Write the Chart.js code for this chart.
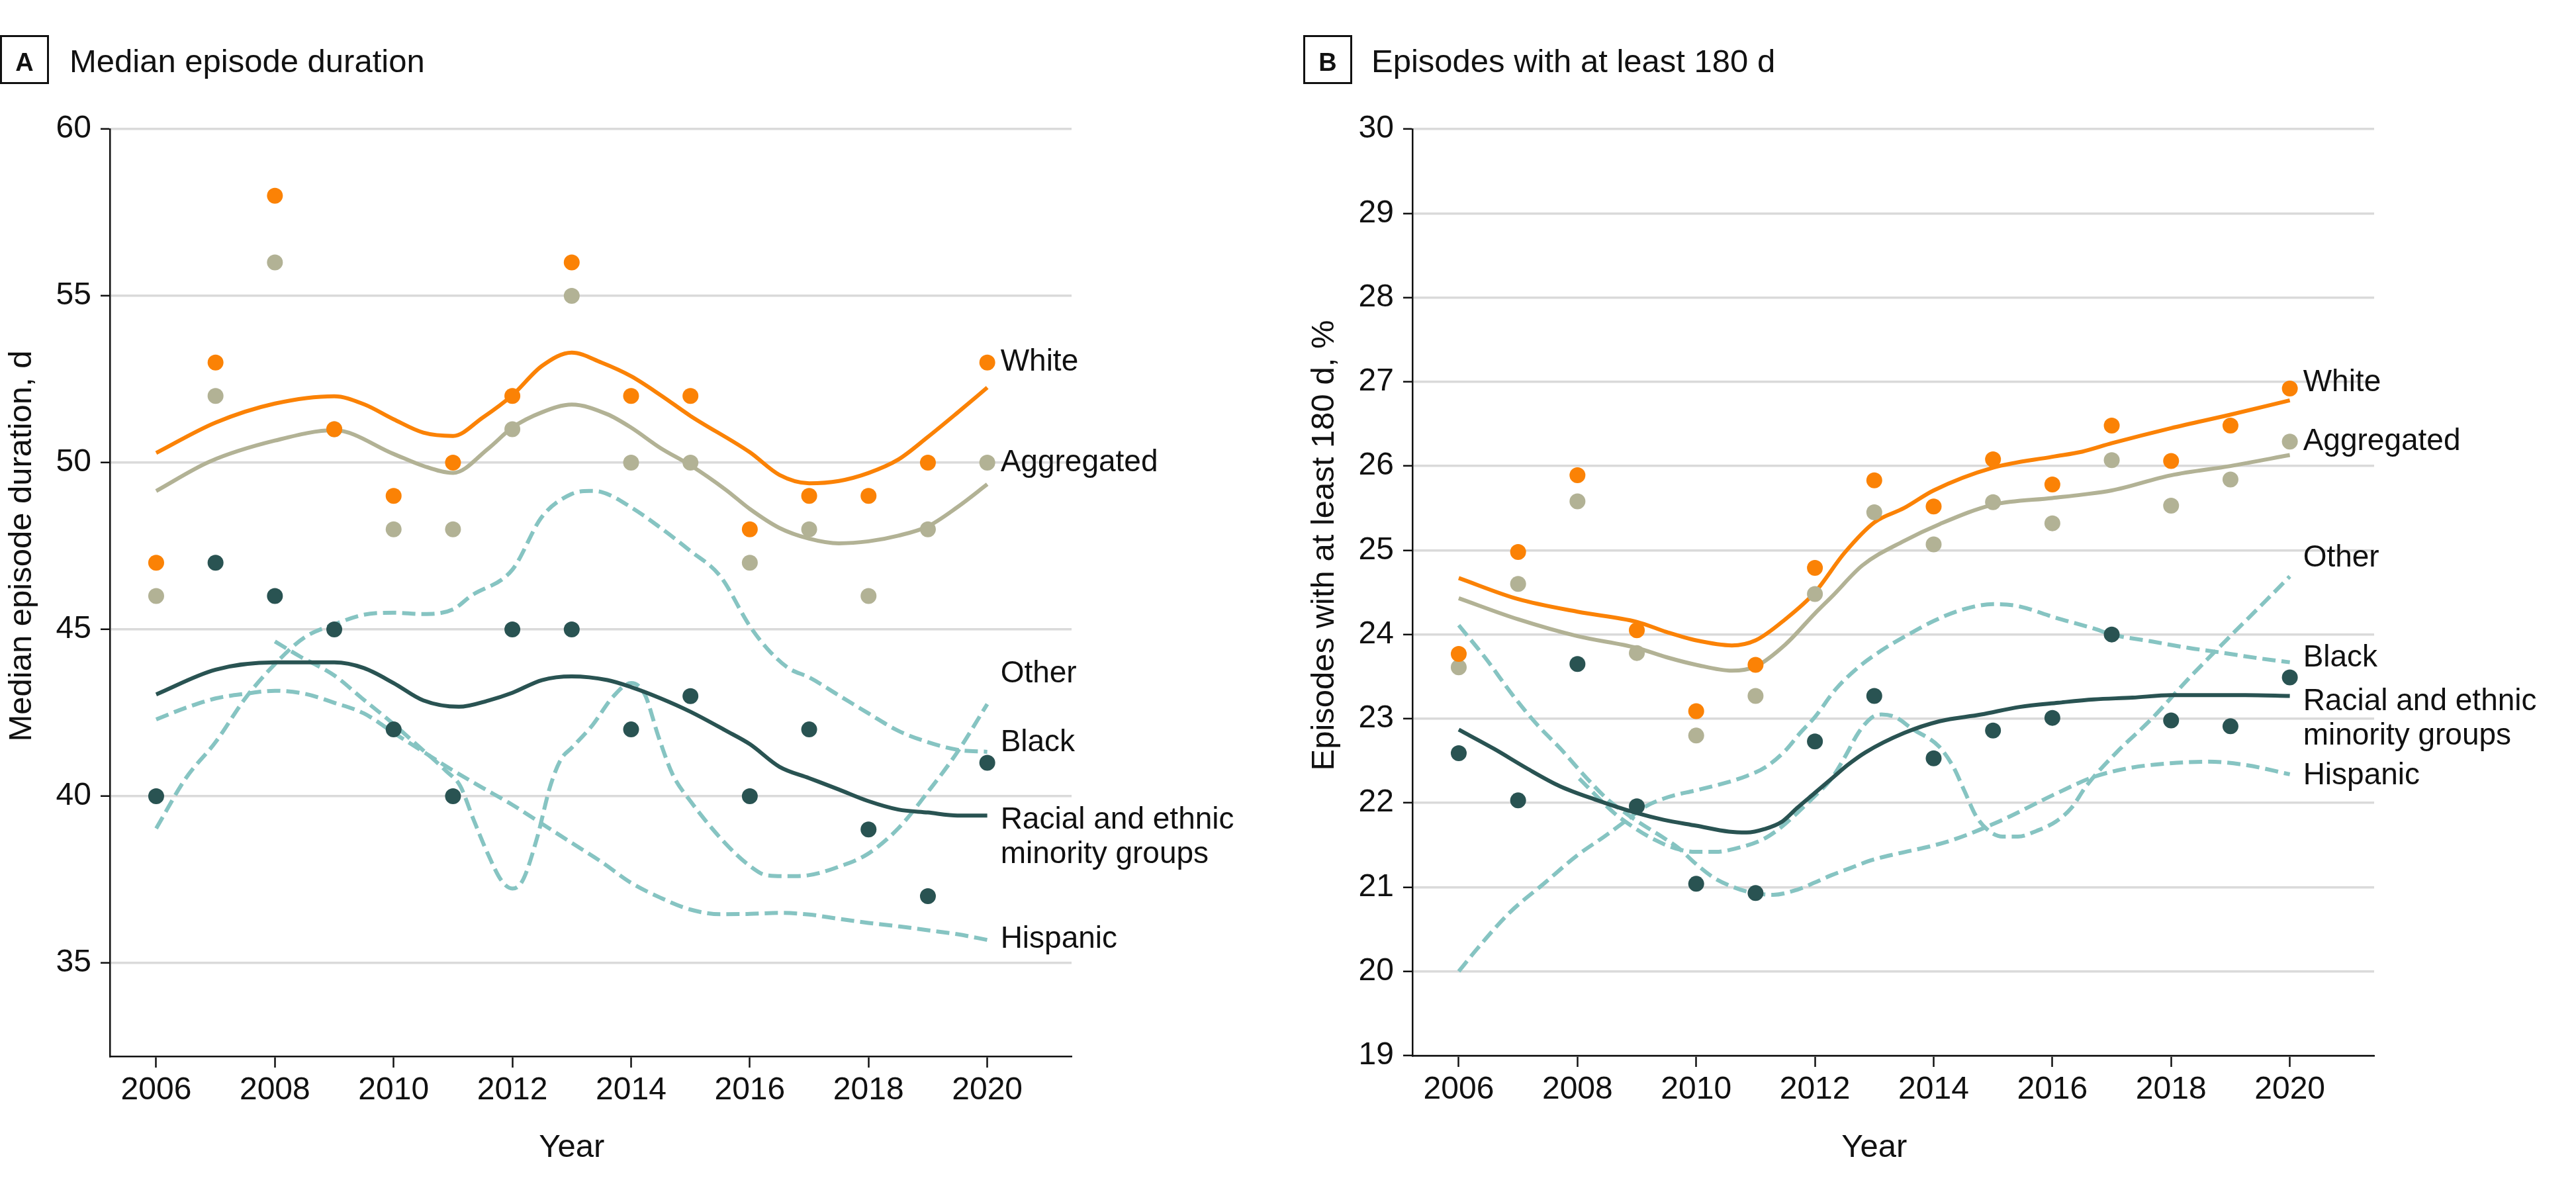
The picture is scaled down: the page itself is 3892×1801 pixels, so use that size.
<!DOCTYPE html>
<html>
<head>
<meta charset="utf-8">
<script src="https://cdn.jsdelivr.net/npm/chart.js@4.4.1/dist/chart.umd.min.js"></script>
<style>
html, body { margin: 0; padding: 0; background: #ffffff; }
#wrap { position: relative; width: 3892px; height: 1801px; overflow: hidden; background: #ffffff; }
canvas { position: absolute; top: 0; }
#chartA { left: 0; }
#chartB { left: 1900px; }
</style>
</head>
<body>
<div id="wrap">
  <canvas id="chartA" width="1900" height="1801"></canvas>
  <canvas id="chartB" width="1992" height="1801"></canvas>
</div>
<script>
// ---------------- DATA ----------------
const years = [2006, 2007, 2008, 2009, 2010, 2011, 2012, 2013, 2014, 2015, 2016, 2017, 2018, 2019, 2020];
const xTickLabels = [2006, 2008, 2010, 2012, 2014, 2016, 2018, 2020];

// Panel A: Median episode duration, d (yearly observed points)
const medianYTicks = [35, 40, 45, 50, 55, 60];
const medianWhite      = [47, 53, 58, 51, 49, 50, 52, 56, 52, 52, 48, 49, 49, 50, 53];
const medianAggregated = [46, 52, 56, 51, 48, 48, 51, 55, 50, 50, 47, 48, 46, 48, 50];
const medianMinority   = [40, 47, 46, 45, 42, 40, 45, 45, 42, 43, 40, 42, 39, 37, 41];

// Panel A: smoothed trend curves [year, value]
const medianWhiteFit = [[2006,50.29],[2007,51.2],[2008,51.77],[2009,51.99],[2009.5,51.75],[2010,51.3],[2010.5,50.9],[2011,50.8],[2011.5,51.35],[2012,52.02],[2012.5,52.9],[2013,53.3],[2013.5,53.0],[2014,52.59],[2014.5,52.02],[2015,51.4],[2016,50.31],[2016.5,49.63],[2017,49.38],[2017.5,49.45],[2018,49.69],[2018.5,50.09],[2019,50.77],[2019.5,51.5],[2020,52.25]];
const medianAggregatedFit = [[2006,49.15],[2006.9,50.03],[2008,50.66],[2009,50.97],[2010,50.26],[2010.5,49.9],[2011,49.69],[2011.6,50.43],[2012,51.05],[2012.5,51.51],[2013,51.74],[2013.6,51.45],[2014,51.05],[2014.5,50.43],[2015,49.92],[2015.6,49.18],[2016,48.61],[2016.5,48.04],[2017,47.72],[2017.5,47.58],[2018,47.64],[2018.5,47.81],[2019,48.09],[2019.5,48.67],[2020,49.35]];
const medianMinorityFit = [[2006,43.05],[2007,43.79],[2008,44.01],[2009,44.01],[2009.5,43.84],[2010,43.39],[2010.5,42.87],[2011.1,42.68],[2011.6,42.87],[2012,43.1],[2012.5,43.48],[2013,43.59],[2013.6,43.48],[2014,43.27],[2014.5,42.93],[2015,42.53],[2015.6,41.96],[2016,41.56],[2016.5,40.88],[2017,40.54],[2017.5,40.2],[2018,39.85],[2018.5,39.6],[2019,39.51],[2019.5,39.42],[2020,39.42]];
const medianBlackFit = [[2006,39.03],[2006.5,40.54],[2007,41.62],[2007.5,42.93],[2008,43.96],[2008.5,44.76],[2009,45.15],[2009.5,45.44],[2010,45.5],[2010.5,45.46],[2011,45.6],[2011.3,46.0],[2012,46.79],[2012.5,48.38],[2013,49.06],[2013.3,49.15],[2013.5,49.12],[2014,48.66],[2014.5,48.04],[2015,47.35],[2015.5,46.6],[2016,45.1],[2016.3,44.41],[2016.65,43.84],[2017,43.56],[2017.5,43.02],[2018,42.48],[2018.5,41.96],[2019,41.62],[2019.5,41.39],[2020,41.33]];
const medianHispanicFit = [[2006,42.3],[2006.5,42.65],[2007,42.93],[2007.5,43.07],[2008,43.16],[2008.5,43.07],[2009,42.8],[2009.5,42.48],[2010,41.9],[2010.5,41.33],[2011,40.77],[2011.5,40.25],[2012,39.74],[2012.5,39.17],[2013,38.6],[2013.5,38.03],[2014,37.4],[2014.5,36.95],[2015,36.6],[2015.5,36.46],[2016,36.47],[2016.5,36.5],[2017,36.45],[2017.5,36.32],[2018,36.2],[2018.5,36.1],[2019,35.98],[2019.5,35.86],[2020,35.69]];
const medianOtherFit = [[2008,44.64],[2008.42,44.19],[2009,43.62],[2009.47,42.93],[2009.94,42.25],[2010.41,41.51],[2010.88,40.76],[2011.12,40.31],[2011.35,39.28],[2011.59,38.26],[2011.82,37.46],[2012,37.23],[2012.17,37.46],[2012.41,38.71],[2012.64,40.31],[2012.82,41.11],[2013,41.45],[2013.35,42.13],[2013.7,42.99],[2014,43.39],[2014.23,43.05],[2014.46,41.79],[2014.7,40.65],[2015,39.85],[2015.58,38.6],[2016,37.91],[2016.28,37.63],[2016.63,37.6],[2016.99,37.63],[2017.46,37.86],[2017.98,38.26],[2018.51,39.05],[2018.98,40.08],[2019.5,41.33],[2020,42.76]];

// Panel B: Episodes with at least 180 d, % (yearly observed points)
const pctYTicks = [19, 20, 21, 22, 23, 24, 25, 26, 27, 28, 29, 30];
const pctWhite      = [23.77, 24.98, 25.89, 24.05, 23.09, 23.64, 24.79, 25.83, 25.52, 26.08, 25.78, 26.48, 26.06, 26.48, 26.92];
const pctAggregated = [23.61, 24.60, 25.58, 23.78, 22.80, 23.27, 24.48, 25.45, 25.07, 25.57, 25.32, 26.07, 25.53, 25.84, 26.29];
const pctMinority   = [22.59, 22.03, 23.65, 21.96, 21.04, 20.93, 22.73, 23.27, 22.53, 22.86, 23.01, 24.00, 22.98, 22.91, 23.49];

// Panel B: smoothed trend curves [year, value]
const pctWhiteFit = [[2006,24.67],[2007,24.42],[2008,24.27],[2009,24.15],[2009.5,24.03],[2010,23.93],[2010.6,23.87],[2011,23.93],[2011.5,24.18],[2012,24.5],[2012.5,24.97],[2013,25.33],[2013.5,25.5],[2014,25.71],[2015,25.98],[2016,26.11],[2016.5,26.17],[2017,26.27],[2018,26.45],[2019,26.61],[2020,26.78]];
const pctAggregatedFit = [[2006,24.43],[2007,24.18],[2008,23.98],[2009,23.84],[2009.5,23.73],[2010,23.64],[2010.6,23.57],[2011,23.62],[2011.5,23.88],[2012,24.25],[2012.3,24.46],[2012.8,24.82],[2013.5,25.11],[2014.1,25.31],[2015,25.54],[2016,25.62],[2016.5,25.66],[2017,25.71],[2018,25.89],[2019,26.0],[2020,26.13]];
const pctMinorityFit = [[2006,22.87],[2006.6,22.64],[2007.15,22.41],[2007.7,22.2],[2008.3,22.04],[2009,21.88],[2009.45,21.8],[2010,21.73],[2010.55,21.66],[2010.85,21.65],[2011.15,21.69],[2011.45,21.78],[2011.7,21.94],[2012,22.12],[2012.3,22.3],[2012.55,22.45],[2012.85,22.6],[2013.5,22.83],[2014.1,22.97],[2014.8,23.05],[2015.45,23.14],[2016.1,23.19],[2016.7,23.23],[2017.35,23.25],[2018,23.28],[2018.6,23.28],[2019.25,23.28],[2020,23.27]];
const pctBlackFit = [[2006,20.0],[2006.3,20.26],[2006.86,20.7],[2007.43,21.04],[2008,21.38],[2008.45,21.6],[2008.8,21.78],[2009.15,21.96],[2009.53,22.07],[2010,22.15],[2010.45,22.23],[2010.85,22.32],[2011.18,22.43],[2011.5,22.62],[2011.75,22.83],[2012,23.02],[2012.35,23.35],[2012.73,23.61],[2013.12,23.81],[2013.5,23.97],[2014,24.16],[2014.46,24.29],[2015,24.36],[2015.4,24.34],[2016.05,24.2],[2016.7,24.07],[2017,24.0],[2017.65,23.92],[2018.3,23.84],[2018.8,23.79],[2019.45,23.72],[2020,23.67]];
const pctHispanicFit = [[2006,24.11],[2006.45,23.72],[2006.92,23.27],[2007.32,22.93],[2007.72,22.64],[2008.11,22.33],[2008.51,22.04],[2008.85,21.86],[2009.08,21.75],[2009.42,21.6],[2009.71,21.46],[2009.99,21.28],[2010.28,21.12],[2010.56,21.02],[2010.9,20.94],[2011.3,20.91],[2011.7,20.97],[2011.98,21.05],[2012.27,21.14],[2012.61,21.23],[2012.95,21.32],[2013.4,21.4],[2013.97,21.49],[2014.36,21.57],[2015.1,21.78],[2016.06,22.11],[2016.7,22.31],[2017.34,22.42],[2017.98,22.47],[2018.62,22.49],[2019.26,22.45],[2020,22.34]];
const pctOtherFit = [[2008.03,22.29],[2008.62,21.88],[2008.97,21.7],[2009.31,21.56],[2009.65,21.46],[2009.99,21.42],[2010.33,21.42],[2010.67,21.46],[2011.13,21.57],[2011.41,21.7],[2011.7,21.88],[2011.98,22.07],[2012.27,22.28],[2012.5,22.54],[2012.73,22.83],[2012.95,23.01],[2013.12,23.05],[2013.35,23.02],[2013.64,22.88],[2014.09,22.67],[2014.33,22.43],[2014.52,22.14],[2014.71,21.85],[2014.91,21.68],[2015.16,21.6],[2015.42,21.6],[2015.74,21.67],[2016.06,21.78],[2016.32,21.94],[2016.57,22.2],[2017.08,22.6],[2017.66,22.99],[2018.3,23.48],[2018.94,23.94],[2019.58,24.39],[2020,24.69]];

// ---------------- STYLE ----------------
const FONT = '"Liberation Sans", Arial, Helvetica, sans-serif';
const TEXT = '#111111';
const ORANGE = '#fb8205';
const OLIVE = '#b2b295';
const DARK = '#295352';
const TEAL = '#86c4c2';
const GRID = '#dadada';

Chart.defaults.font.family = FONT;
Chart.defaults.color = TEXT;

function pairs(arr) { return arr.map(([x, y]) => ({ x, y })); }
function yearly(vals) { return years.map((x, i) => ({ x, y: vals[i] })); }

function annotations(p) {
  return {
    id: 'annot',
    afterDraw(chart) {
      const ctx = chart.ctx;
      const xs = chart.scales.x, ys = chart.scales.y;
      ctx.save();
      ctx.fillStyle = TEXT;
      ctx.strokeStyle = TEXT;
      // panel letter box
      ctx.lineWidth = 3;
      ctx.strokeRect(p.boxX + 1.5, 54.5, 71, 71);
      ctx.font = 'bold 38px ' + FONT;
      ctx.textAlign = 'center';
      ctx.textBaseline = 'alphabetic';
      ctx.fillText(p.letter, p.boxX + 37, 107);
      // panel title
      ctx.font = '49px ' + FONT;
      ctx.textAlign = 'left';
      ctx.fillText(p.title, p.titleX, 109);
      // x axis title
      ctx.textAlign = 'center';
      ctx.font = '49px ' + FONT;
      const xc = (xs.getPixelForValue(xTickLabels[0]) + xs.getPixelForValue(xTickLabels[xTickLabels.length - 1])) / 2;
      ctx.fillText('Year', xc, 1748);
      // y axis title
      ctx.save();
      ctx.translate(p.yTitleX, p.yTitleY);
      ctx.rotate(-Math.PI / 2);
      ctx.fillText(p.yTitle, 0, 0);
      ctx.restore();
      // series labels at the right end
      ctx.font = '46px ' + FONT;
      ctx.textAlign = 'left';
      ctx.textBaseline = 'middle';
      const lx = xs.getPixelForValue(years[years.length - 1]) + 20;
      p.labels.forEach(l => {
        const y = ys.getPixelForValue(l.at);
        l.lines.forEach((t, i) => ctx.fillText(t, lx, y + i * 52));
      });
      ctx.restore();
    }
  };
}

function makeChart(id, o) {
  const datasets = [];
  o.dashed.forEach(d => datasets.push({
    type: 'line', data: pairs(d), borderColor: TEAL, borderWidth: 6, borderDash: [20, 9],
    borderCapStyle: 'butt', pointRadius: 0, fill: false, cubicInterpolationMode: 'monotone', order: 3
  }));
  o.solid.forEach(d => datasets.push({
    type: 'line', data: pairs(d.pts), borderColor: d.color, borderWidth: 6,
    pointRadius: 0, fill: false, cubicInterpolationMode: 'monotone', order: 2
  }));
  o.dots.forEach((d, k) => datasets.push({
    type: 'line', data: yearly(d.vals), showLine: false, pointRadius: 12, pointHoverRadius: 12,
    pointBackgroundColor: d.color, pointBorderWidth: 0, borderColor: d.color, borderWidth: 0, order: 1 - k * 0.1
  }));

  const tickFont = { family: FONT, size: 48 };
  return new Chart(document.getElementById(id), {
    type: 'line',
    data: { datasets },
    options: {
      responsive: false,
      animation: false,
      devicePixelRatio: 1,
      events: [],
      layout: { padding: { left: 0, top: 195, right: o.padRight, bottom: 0 } },
      plugins: { legend: { display: false }, tooltip: { enabled: false } },
      scales: {
        x: {
          type: 'linear', min: 2005.22, max: 2021.42,
          afterFit: s => { s.height = o.xHeight; },
          afterBuildTicks: s => { s.ticks = xTickLabels.map(v => ({ value: v })); },
          ticks: { font: tickFont, color: TEXT, padding: 6, autoSkip: false, maxRotation: 0, callback: v => String(v) },
          grid: { display: true, drawOnChartArea: false, drawTicks: true, tickLength: 17, tickWidth: 2.5, tickColor: TEXT },
          border: { display: true, color: TEXT, width: 2.5 }
        },
        y: {
          type: 'linear', min: o.yMin, max: o.yMax,
          afterFit: s => { s.width = o.yWidth; },
          afterBuildTicks: s => { s.ticks = o.yTicks.map(v => ({ value: v })); },
          ticks: { font: tickFont, color: TEXT, padding: 14, callback: v => String(v) },
          grid: { display: true, color: GRID, lineWidth: 3.5, drawTicks: true, tickLength: 14, tickWidth: 2.5, tickColor: TEXT },
          border: { display: true, color: TEXT, width: 2.5 }
        }
      }
    },
    plugins: [annotations(o.text)]
  });
}

makeChart('chartA', {
  padRight: 1900 - 1619, xHeight: 1801 - 1596, yWidth: 166,
  yMin: 32.2, yMax: 60, yTicks: medianYTicks,
  dashed: [medianBlackFit, medianHispanicFit, medianOtherFit],
  solid: [
    { pts: medianMinorityFit, color: DARK },
    { pts: medianAggregatedFit, color: OLIVE },
    { pts: medianWhiteFit, color: ORANGE }
  ],
  dots: [
    { vals: medianAggregated, color: OLIVE },
    { vals: medianMinority, color: DARK },
    { vals: medianWhite, color: ORANGE }
  ],
  text: {
    letter: 'A', boxX: 0, title: 'Median episode duration', titleX: 105,
    yTitle: 'Median episode duration, d', yTitleX: 47, yTitleY: 825,
    labels: [
      { at: 53.0, lines: ['White'] },
      { at: 50.0, lines: ['Aggregated'] },
      { at: 43.67, lines: ['Other'] },
      { at: 41.59, lines: ['Black'] },
      { at: 39.27, lines: ['Racial and ethnic', 'minority groups'] },
      { at: 35.71, lines: ['Hispanic'] }
    ]
  }
});

makeChart('chartB', {
  padRight: 1992 - 1687, xHeight: 1801 - 1595, yWidth: 234,
  yMin: 19, yMax: 30, yTicks: pctYTicks,
  dashed: [pctBlackFit, pctHispanicFit, pctOtherFit],
  solid: [
    { pts: pctMinorityFit, color: DARK },
    { pts: pctAggregatedFit, color: OLIVE },
    { pts: pctWhiteFit, color: ORANGE }
  ],
  dots: [
    { vals: pctAggregated, color: OLIVE },
    { vals: pctMinority, color: DARK },
    { vals: pctWhite, color: ORANGE }
  ],
  text: {
    letter: 'B', boxX: 69, title: 'Episodes with at least 180 d', titleX: 172,
    yTitle: 'Episodes with at least 180 d, %', yTitleX: 115, yTitleY: 824,
    labels: [
      { at: 26.99, lines: ['White'] },
      { at: 26.29, lines: ['Aggregated'] },
      { at: 24.91, lines: ['Other'] },
      { at: 23.72, lines: ['Black'] },
      { at: 23.2, lines: ['Racial and ethnic', 'minority groups'] },
      { at: 22.32, lines: ['Hispanic'] }
    ]
  }
});
</script>
</body>
</html>
